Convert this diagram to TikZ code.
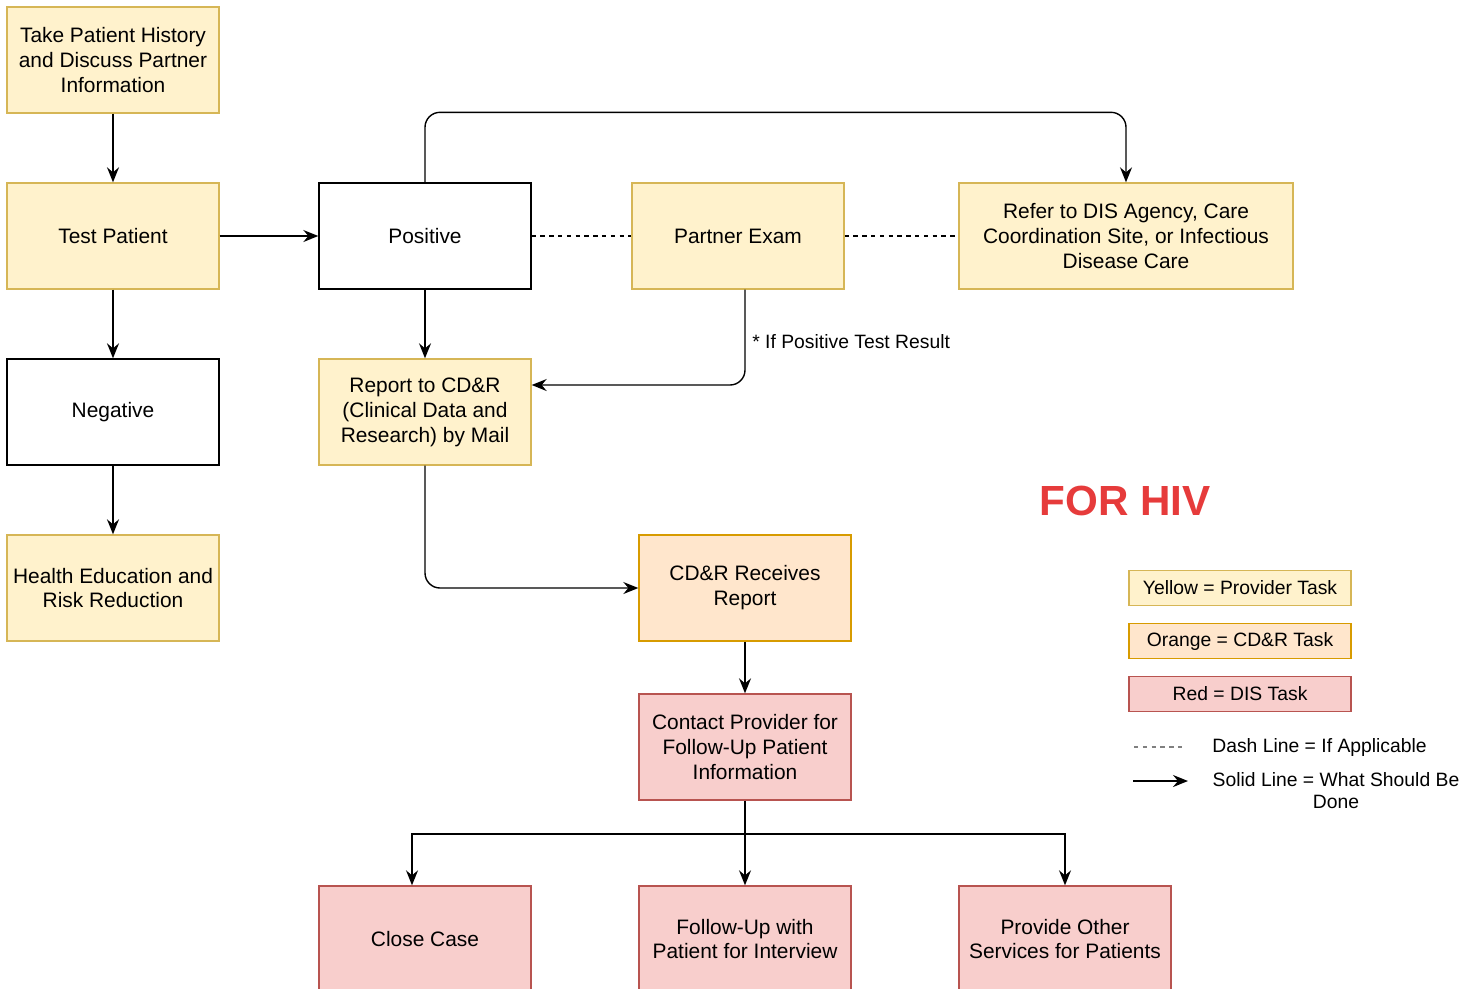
\documentclass[tikz,border=0pt]{standalone}
\usepackage{fontspec}
\setmainfont{Liberation Sans}
\usetikzlibrary{
    positioning,      % For placing nodes relative to each other
    arrows.meta,      % For modern arrow tips (e.g., Stealth)
    calc              % For calculating coordinates
}

\definecolor{provider_fill}{HTML}{FFF2CC}
\definecolor{provider_line}{HTML}{D6B656}
\definecolor{cdr_fill}{HTML}{FFE6CC}
\definecolor{cdr_line}{HTML}{D79B00}
\definecolor{dis_fill}{HTML}{F8CECC}
\definecolor{dis_line}{HTML}{B85450}
\definecolor{hiv_red}{HTML}{E63B3B}

\begin{document}
\begin{tikzpicture}[
    % Global settings: one unit is one pixel of the layout, y runs downwards
    x=0.02cm, y=-0.02cm,
    % Style for every task box
    task_box/.style={
        draw,
        line width=0.8pt,
        minimum width=4.24cm,
        minimum height=2.12cm,
        inner sep=2pt,
        align=center,
        font=\fontsize{11.9}{14.2}\selectfont
    },
    % Styles for the three kinds of task
    provider_style/.style={task_box, fill=provider_fill, draw=provider_line},
    cdr_style/.style={task_box, fill=cdr_fill, draw=cdr_line},
    dis_style/.style={task_box, fill=dis_fill, draw=dis_line},
    result_style/.style={task_box, fill=white, draw=black},
    % Style for the small legend boxes
    legend_box/.style={
        draw,
        line width=0.8pt,
        minimum width=4.44cm,
        minimum height=0.7cm,
        inner sep=1pt,
        font=\fontsize{11}{14.2}\selectfont
    },
    % Style for arrowheads
    arrow_tip/.style={
        -{Stealth[length=3mm, width=2.4mm, inset=1mm]}
    },
    link/.style={line width=0.8pt, arrow_tip},
    dash_link/.style={line width=0.8pt, dash pattern=on 2.5pt off 2.5pt},
    note_style/.style={font=\fontsize{11}{12.6}\selectfont, inner sep=0pt}
]
    \useasboundingbox (0,0) rectangle (1476,988);

    % 1. Provider side: the left column and the top row.
    \node[provider_style] (history) at (113,60) {Take Patient History\\and Discuss Partner\\Information};
    \node[provider_style] (test) at (113,236) {Test Patient};
    \node[result_style] (negative) at (113,412) {Negative};
    \node[provider_style] (health) at (113,588) {Health Education and\\Risk Reduction};
    \node[result_style] (positive) at (425,236) {Positive};
    \node[provider_style] (report) at (425,412) {Report to CD\&R\\(Clinical Data and\\Research) by Mail};
    \node[provider_style] (partner) at (738,236) {Partner Exam};
    \node[provider_style, minimum width=6.68cm] (refer) at (1126,236) {Refer to DIS Agency, Care\\Coordination Site, or Infectious\\Disease Care};

    % 2. CD&R and DIS tasks.
    \node[cdr_style] (receives) at (745,588) {CD\&R Receives\\Report};
    \node[dis_style] (contact) at (745,747) {Contact Provider for\\Follow-Up Patient\\Information};
    \node[dis_style] (close) at (425,939) {Close Case};
    \node[dis_style] (followup) at (745,939) {Follow-Up with\\Patient for Interview};
    \node[dis_style] (services) at (1065,939) {Provide Other\\Services for Patients};

    % 3. Connectors between the tasks.
    \draw[link] (history) -- (test);
    \draw[link] (test) -- (negative);
    \draw[link] (negative) -- (health);
    \draw[link] (test) -- (positive);
    \draw[link] (positive) -- (report);
    \draw[dash_link] (positive) -- (partner);
    \draw[dash_link] (partner) -- (refer);
    \draw[link, rounded corners=0.3cm] (positive.north) -- ++(0,-70) -| (refer.north);
    \draw[link, rounded corners=0.3cm] ([xshift=0.14cm]partner.south) |- ([yshift=0.54cm]report.east);
    \node[note_style, anchor=west] (positive_note) at (752,342) {* If Positive Test Result};
    \draw[link, rounded corners=0.3cm] (report.south) |- (receives.west);
    \draw[link] (receives) -- (contact);

    % 4. The split below the DIS contact.
    \coordinate (split) at (745,834);
    \draw[link] (contact) -- (followup);
    \draw[link] (split) -| ([xshift=-0.26cm]close.north);
    \draw[link] (split) -| (services.north);

    % 5. Title and legend.
    \node[text=hiv_red, font=\fontsize{24}{28}\selectfont\bfseries] (title) at (1125,501) {FOR HIV};
    \node[legend_box, fill=provider_fill, draw=provider_line] (legend_yellow) at (1240,588) {Yellow = Provider Task};
    \node[legend_box, fill=cdr_fill, draw=cdr_line] (legend_orange) at (1240,641) {Orange = CD\&R Task};
    \node[legend_box, fill=dis_fill, draw=dis_line] (legend_red) at (1240,694) {Red = DIS Task};
    \coordinate (dash_start) at (1134,747);
    \coordinate (dash_end) at (1184,747);
    \draw[dash_link, gray] (dash_start) -- (dash_end);
    \node[note_style, anchor=west] (dash_text) at (1212,747) {Dash Line = If Applicable};
    \coordinate (solid_start) at (1133,781);
    \coordinate (solid_end) at (1188,781);
    \draw[link, line width=1.2pt] (solid_start) -- (solid_end);
    \node[note_style, align=center] (solid_text) at (1336,791) {Solid Line = What Should Be\\Done};

\end{tikzpicture}
\end{document}
